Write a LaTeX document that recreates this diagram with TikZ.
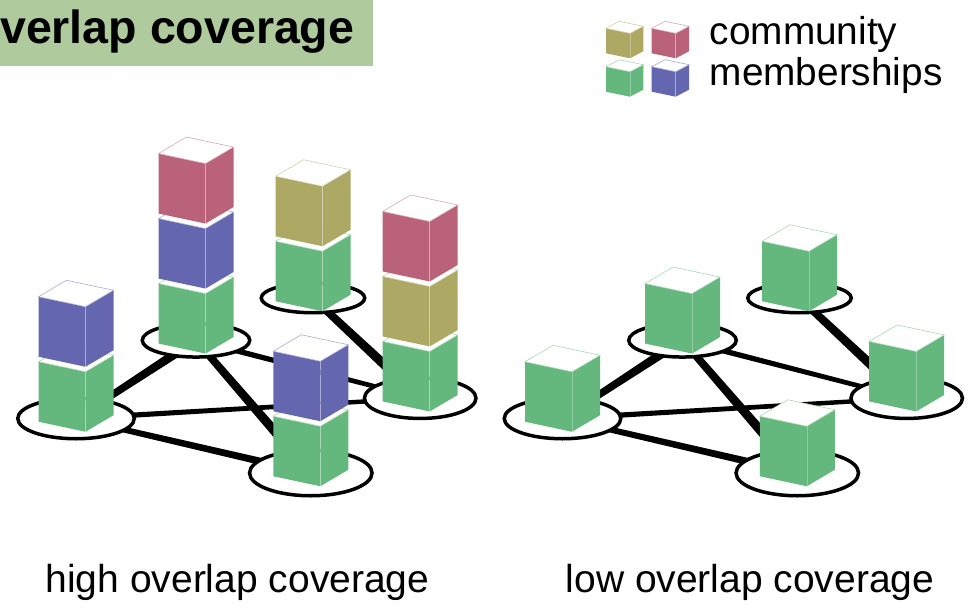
\documentclass[tikz,border=0pt]{standalone}
\usepackage{fontspec}
\setmainfont{Liberation Sans}
\usetikzlibrary{calc,shapes.geometric,backgrounds}

\definecolor{cgreen}{RGB}{100,183,125}
\definecolor{cblue}{RGB}{100,103,176}
\definecolor{cred}{RGB}{186,98,122}
\definecolor{colive}{RGB}{174,168,101}
\definecolor{titlefill}{RGB}{175,202,157}

% cube with bottom-front-left corner at #1; front edge (#3,#4),
% depth edge (#5,-#6), height #7 (y axis points down)
\newcommand{\drawcube}[7]{%
  \begin{scope}[shift={#1}]
    \fill[#2] (0,0) -- (#3,#4) -- (#3,#4-#7) -- (0,-#7) -- cycle;
    \fill[#2] (#3,#4) -- (#3+#5,#4-#6) -- (#3+#5,#4-#6-#7) -- (#3,#4-#7) -- cycle;
    \filldraw[fill=white, draw=#2!55!white, line width=0.6pt]
      (0,-#7) -- (#3,#4-#7) -- (#3+#5,#4-#6-#7) -- (#5,-#6-#7) -- cycle;
    \draw[white, opacity=0.3, line width=0.6pt] (#3,#4) -- (#3,#4-#7);
  \end{scope}}

% stacked cube on hub #1 at level #2 (0 = bottom), colour #3
\newcommand{\towercube}[3]{%
  \drawcube{($(#1.center)+(-37.5,3.25-65*#2)$)}{#3}{47}{10}{28}{16.5}{60}}

% small legend cube with bottom-front-left corner at (#1,#2)
\newcommand{\legendcube}[3]{\drawcube{(#1,#2)}{#3}{24}{5}{13.3}{7}{25}}

% tapered tie between hubs #1 and #2, half widths #3 and #4
\newcommand{\tielink}[4]{%
  \fill ($(#1.center)!#3!90:(#2.center)$) -- ($(#2.center)!#4!-90:(#1.center)$)
     -- ($(#2.center)!#4!90:(#1.center)$) -- ($(#1.center)!#3!-90:(#2.center)$) -- cycle;}

\tikzset{
  hub/.style={ellipse, draw, line width=3.5pt, fill=white, inner sep=0pt},
  caption/.style={anchor=base, inner sep=0pt, font=\fontsize{39}{40}\selectfont},
  legendtext/.style={anchor=base west, inner sep=0pt, font=\fontsize{38.8}{40}\selectfont}
}

\begin{document}
\begin{tikzpicture}[x=1pt, y=-1pt]
  \useasboundingbox (0,0) rectangle (972,610);

  % title
  \fill[titlefill] (0,0) rectangle (373,66);
  \node[anchor=base west, inner sep=0pt, font=\fontsize{46.5}{47}\selectfont\bfseries]
    (title) at (0,44) {verlap coverage};

  % legend
  \legendcube{606}{53.3}{colive}
  \legendcube{651.7}{53.3}{cred}
  \legendcube{606}{91.7}{cgreen}
  \legendcube{651.7}{91.7}{cblue}
  \node[legendtext] (leg1) at (709.5,45) {community};
  \node[legendtext] (leg2) at (709.5,85) {memberships};

  % ---- high overlap network ----
  \node[hub, minimum width=103.5pt, minimum height=29.5pt] (LC) at (313,298) {};
  \towercube{LC}{0}{cgreen}
  \towercube{LC}{1}{colive}
  \node[hub, minimum width=107.5pt, minimum height=33.5pt] (LB) at (196,340.3) {};
  \towercube{LB}{0}{cgreen}
  \towercube{LB}{1}{cblue}
  \towercube{LB}{2}{cred}
  \node[hub, minimum width=111.5pt, minimum height=40.5pt] (LD) at (420.2,398.2) {};
  \towercube{LD}{0}{cgreen}
  \towercube{LD}{1}{colive}
  \towercube{LD}{2}{cred}
  \node[hub, minimum width=116.5pt, minimum height=40.5pt] (LA) at (76,418.5) {};
  \towercube{LA}{0}{cgreen}
  \towercube{LA}{1}{cblue}
  \node[hub, minimum width=122.5pt, minimum height=45.5pt] (LE) at (310.8,473) {};
  \towercube{LE}{0}{cgreen}
  \towercube{LE}{1}{cblue}

  % ---- low overlap network ----
  \node[hub, minimum width=103.5pt, minimum height=29.5pt] (RC) at (799.5,298) {};
  \towercube{RC}{0}{cgreen}
  \node[hub, minimum width=107.5pt, minimum height=33.5pt] (RB) at (682.5,340.3) {};
  \towercube{RB}{0}{cgreen}
  \node[hub, minimum width=111.5pt, minimum height=40.5pt] (RD) at (906.7,398.2) {};
  \towercube{RD}{0}{cgreen}
  \node[hub, minimum width=116.5pt, minimum height=40.5pt] (RA) at (562.5,418.5) {};
  \towercube{RA}{0}{cgreen}
  \node[hub, minimum width=122.5pt, minimum height=45.5pt] (RE) at (797.3,473) {};
  \towercube{RE}{0}{cgreen}

  % ties behind the hubs
  \begin{pgfonlayer}{background}
    \foreach \p in {L,R}{
      \tielink{\p A}{\p B}{3.2pt}{4.6pt}
      \tielink{\p B}{\p E}{3.6pt}{5.1pt}
      \tielink{\p B}{\p D}{2.8pt}{2.2pt}
      \tielink{\p A}{\p D}{2.7pt}{2.1pt}
      \tielink{\p A}{\p E}{2.7pt}{3.8pt}
      \tielink{\p C}{\p D}{3.7pt}{5.1pt}
    }
  \end{pgfonlayer}

  % captions
  \node[caption] (capL) at (237.5,592) {high overlap coverage};
  \node[caption] (capR) at (750,592) {low overlap coverage};
\end{tikzpicture}
\end{document}
